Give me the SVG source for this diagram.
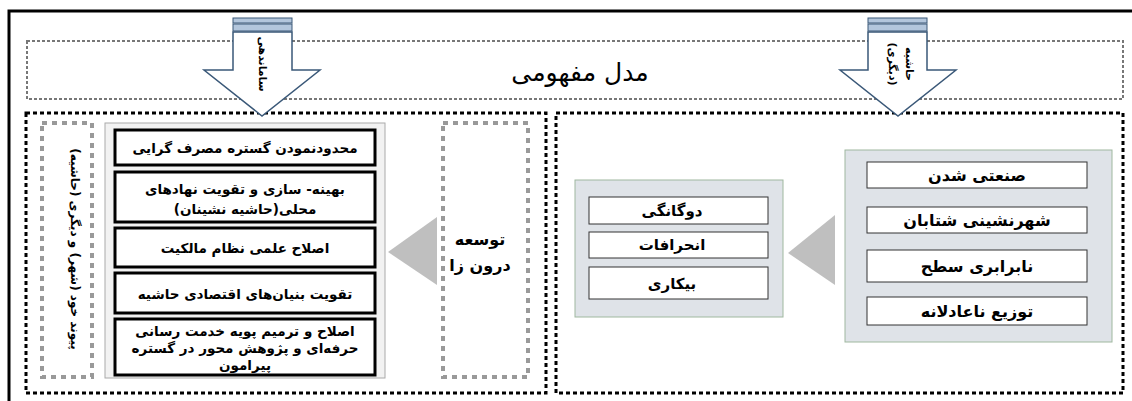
<svg xmlns="http://www.w3.org/2000/svg" width="1132" height="401" viewBox="0 0 1132 401">
<style>
.t{font-family:"DejaVu Sans","Noto Sans",sans-serif;fill:#000;text-anchor:middle;direction:rtl}
.b{font-weight:bold}
.box{fill:#fff;stroke:#000;stroke-width:3}
.sbox{fill:#fff;stroke:#333;stroke-width:1}
.panel{fill:#dfe3e8;stroke:#9fb89f;stroke-width:1}
.arrow{fill:#fff;stroke:#3a5878;stroke-width:1.5}
.stripe{fill:#b3c6dc;stroke:#3a5878;stroke-width:1}
.tri{fill:#bfbfbf}
</style>
<rect x="0" y="0" width="1132" height="401" fill="#fff"/>
<rect x="9" y="11" width="1135" height="400" fill="none" stroke="#000" stroke-width="3"/>
<g id="title">
<rect x="27" y="41" width="1096" height="58" fill="none" stroke="#777" stroke-width="2" stroke-dasharray="3 2"/>
<text class="t" x="580" y="81" font-size="25">مدل مفهومی</text>
</g>
<g id="left-panel">
<rect x="26" y="113" width="520" height="280" fill="none" stroke="#000" stroke-width="3" stroke-dasharray="4 3"/>
</g>
<g id="right-panel">
<rect x="556" y="113" width="567" height="280" fill="none" stroke="#000" stroke-width="3" stroke-dasharray="4 3"/>
</g>
<g id="link-node">
<rect x="42" y="123" width="50" height="254" fill="none" stroke="#999" stroke-width="4" stroke-dasharray="5 5"/>
<text class="t b" font-size="12" transform="translate(71,249) rotate(90)">پیوند خود (شهر) و دیگری (حاشیه)</text>
</g>
<g id="strategies">
<rect x="105" y="123" width="280" height="255" fill="#f2f2f2" stroke="#aaa" stroke-width="1"/>
<rect class="box" x="115" y="130" width="260" height="35"/>
<text class="t b" x="245" y="153" font-size="13.5">محدودنمودن گستره مصرف گرایی</text>
<rect class="box" x="115" y="172" width="260" height="50"/>
<text class="t b" x="245" y="194" font-size="13.5">بهینه- سازی و تقویت نهادهای</text>
<text class="t b" x="245" y="214" font-size="13.5">محلی(حاشیه نشینان)</text>
<rect class="box" x="115" y="228" width="260" height="39"/>
<text class="t b" x="245" y="253" font-size="13.5">اصلاح علمی نظام مالکیت</text>
<rect class="box" x="115" y="273" width="260" height="40"/>
<text class="t b" x="245" y="299" font-size="13.5">تقویت بنیان‌های اقتصادی حاشیه</text>
<rect class="box" x="115" y="319" width="260" height="56"/>
<text class="t b" x="245" y="336" font-size="13.5">اصلاح و ترمیم پویه خدمت رسانی</text>
<text class="t b" x="245" y="353" font-size="13.5">حرفه‌ای و پژوهش محور در گستره</text>
<text class="t b" x="245" y="370" font-size="13.5">پیرامون</text>
</g>
<g id="endogenous">
<rect x="443" y="123" width="85" height="254" fill="none" stroke="#999" stroke-width="4" stroke-dasharray="5 5"/>
<text class="t b" x="480" y="245" font-size="16">توسعه</text>
<text class="t b" x="480" y="271" font-size="16">درون زا</text>
</g>
<g id="outcomes">
<rect class="panel" x="575" y="180" width="208" height="137"/>
<rect class="sbox" x="589" y="197" width="179" height="27"/>
<text class="t b" x="672" y="216" font-size="15">دوگانگی</text>
<rect class="sbox" x="589" y="232" width="179" height="26"/>
<text class="t b" x="672" y="250" font-size="15">انحرافات</text>
<rect class="sbox" x="589" y="267" width="179" height="32"/>
<text class="t b" x="672" y="289" font-size="15">بیکاری</text>
</g>
<g id="causes">
<rect class="panel" x="845" y="150" width="267" height="192"/>
<rect class="sbox" x="867" y="162" width="220" height="26"/>
<text class="t b" x="977" y="181" font-size="16">صنعتی شدن</text>
<rect class="sbox" x="867" y="207" width="220" height="26"/>
<text class="t b" x="977" y="226" font-size="16">شهرنشینی شتابان</text>
<rect class="sbox" x="867" y="250" width="220" height="32"/>
<text class="t b" x="977" y="272" font-size="16">نابرابری سطح</text>
<rect class="sbox" x="867" y="297" width="220" height="28"/>
<text class="t b" x="977" y="317" font-size="16">توزیع ناعادلانه</text>
</g>
<g id="arrow-organize">
<rect class="stripe" x="233" y="18" width="59" height="5"/>
<rect class="stripe" x="233" y="24" width="59" height="7"/>
<path class="arrow" d="M233,32 H292 V70 H320 L262,116 L204,70 H233 Z"/>
<text class="t b" font-size="11" transform="translate(259,64) rotate(90)">ساماندهی</text>
</g>
<g id="arrow-margin">
<rect class="stripe" x="868" y="18" width="59" height="5"/>
<rect class="stripe" x="868" y="24" width="59" height="7"/>
<path class="arrow" d="M868,32 H927 V70 H956 L898,116 L840,70 H868 Z"/>
<text class="t b" font-size="11" transform="translate(906,64) rotate(90)">حاشیه</text>
<text class="t b" font-size="11" transform="translate(889,64) rotate(90)">(دیگری)</text>
</g>
<g id="connectors">
<polygon class="tri" points="388,252 437,217 437,285"/>
<polygon class="tri" points="788,253 835,215 835,285"/>
</g>
</svg>
